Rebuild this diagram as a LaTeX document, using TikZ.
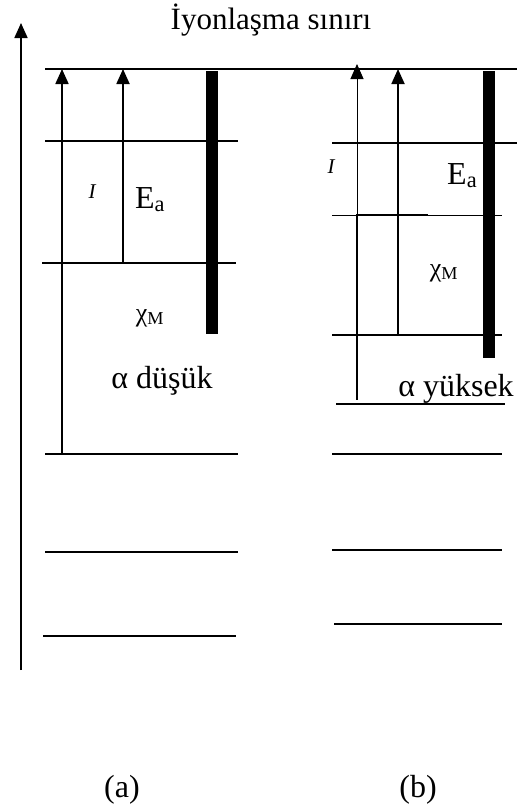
\documentclass[tikz,border=0pt]{standalone}
\usepackage{fontspec}
\setmainfont{Liberation Serif}
\usetikzlibrary{arrows.meta}
\tikzset{
  level/.style={line width=1.8pt},
  thinlevel/.style={line width=0.7pt},
  jump/.style={-{Triangle[length=15pt,width=13pt]},line width=1.8pt},
  thinjump/.style={-{Triangle[length=15pt,width=13pt]},line width=1pt},
  energybar/.style={line width=11.5pt},
  lbl/.style={inner sep=0pt,font=\fontsize{32}{36}\selectfont},
  smalllbl/.style={inner sep=0pt,font=\fontsize{21}{24}\selectfont\itshape},
  chilbl/.style={inner sep=0pt,font=\fontsize{26}{30}\selectfont},
}

\begin{document}
\begin{tikzpicture}[x=1pt,y=-1pt]
\useasboundingbox (0,0) rectangle (517,811);
% energy axis
\coordinate (axbot) at (21,670);
\coordinate (axtop) at (21,23);
\draw[jump] (axbot) -- (axtop);
\node[lbl,font=\fontsize{31}{36}\selectfont,anchor=base] (title) at (271,29) {İyonlaşma sınırı};
% ionization limit
\draw[level] (45,69) -- (517,69);

% (a) low alpha
\draw[level] (45,141) -- (238,141);
\draw[level] (42,263) -- (236,263);
\draw[level] (45,454) -- (238,454);
\draw[level] (45,552) -- (238,552);
\draw[level] (43,636) -- (236,636);
\coordinate (ia) at (62,454);  \coordinate (iatop) at (62,69);
\coordinate (ea) at (123,263); \coordinate (eatop) at (123,69);
\draw[jump] (ia) -- (iatop);
\draw[jump] (ea) -- (eatop);
\draw[energybar] (212,71) -- (212,334);
\node[smalllbl] (Ia) at (92,192) {I};
\node[lbl,anchor=base west] (Eaa) at (135,208) {E\textsubscript{a}};
\node[chilbl] (chia) at (150,318) {χ\textsubscript{M}};
\node[lbl,anchor=base] (alfa) at (162,388) {α düşük};

% (b) high alpha
\draw[level] (332,143) -- (517,143);
\draw[thinlevel] (332,215) -- (502,215);
\draw[level] (428,215) -- (357,215) -- (357,400);
\draw[level] (332,335) -- (502,335);
\draw[level] (336,404) -- (505,404);
\draw[level] (332,454) -- (502,454);
\draw[level] (332,550) -- (502,550);
\draw[level] (334,624) -- (502,624);
\coordinate (ib) at (357,215); \coordinate (ibtop) at (357,64);
\coordinate (eb) at (398,335); \coordinate (ebtop) at (398,69);
\draw[thinjump] (ib) -- (ibtop);
\draw[jump] (eb) -- (ebtop);
\draw[energybar] (489,71) -- (489,358);
\node[smalllbl] (Ib) at (331,167) {I};
\node[lbl,anchor=base west] (Eab) at (447,184) {E\textsubscript{a}};
\node[chilbl] (chib) at (444,273) {χ\textsubscript{M}};
\node[lbl,anchor=base] (alfb) at (456,396) {α yüksek};

\node[lbl,anchor=base] (capa) at (122,797) {(a)};
\node[lbl,anchor=base] (capb) at (418,797) {(b)};
\end{tikzpicture}
\end{document}
